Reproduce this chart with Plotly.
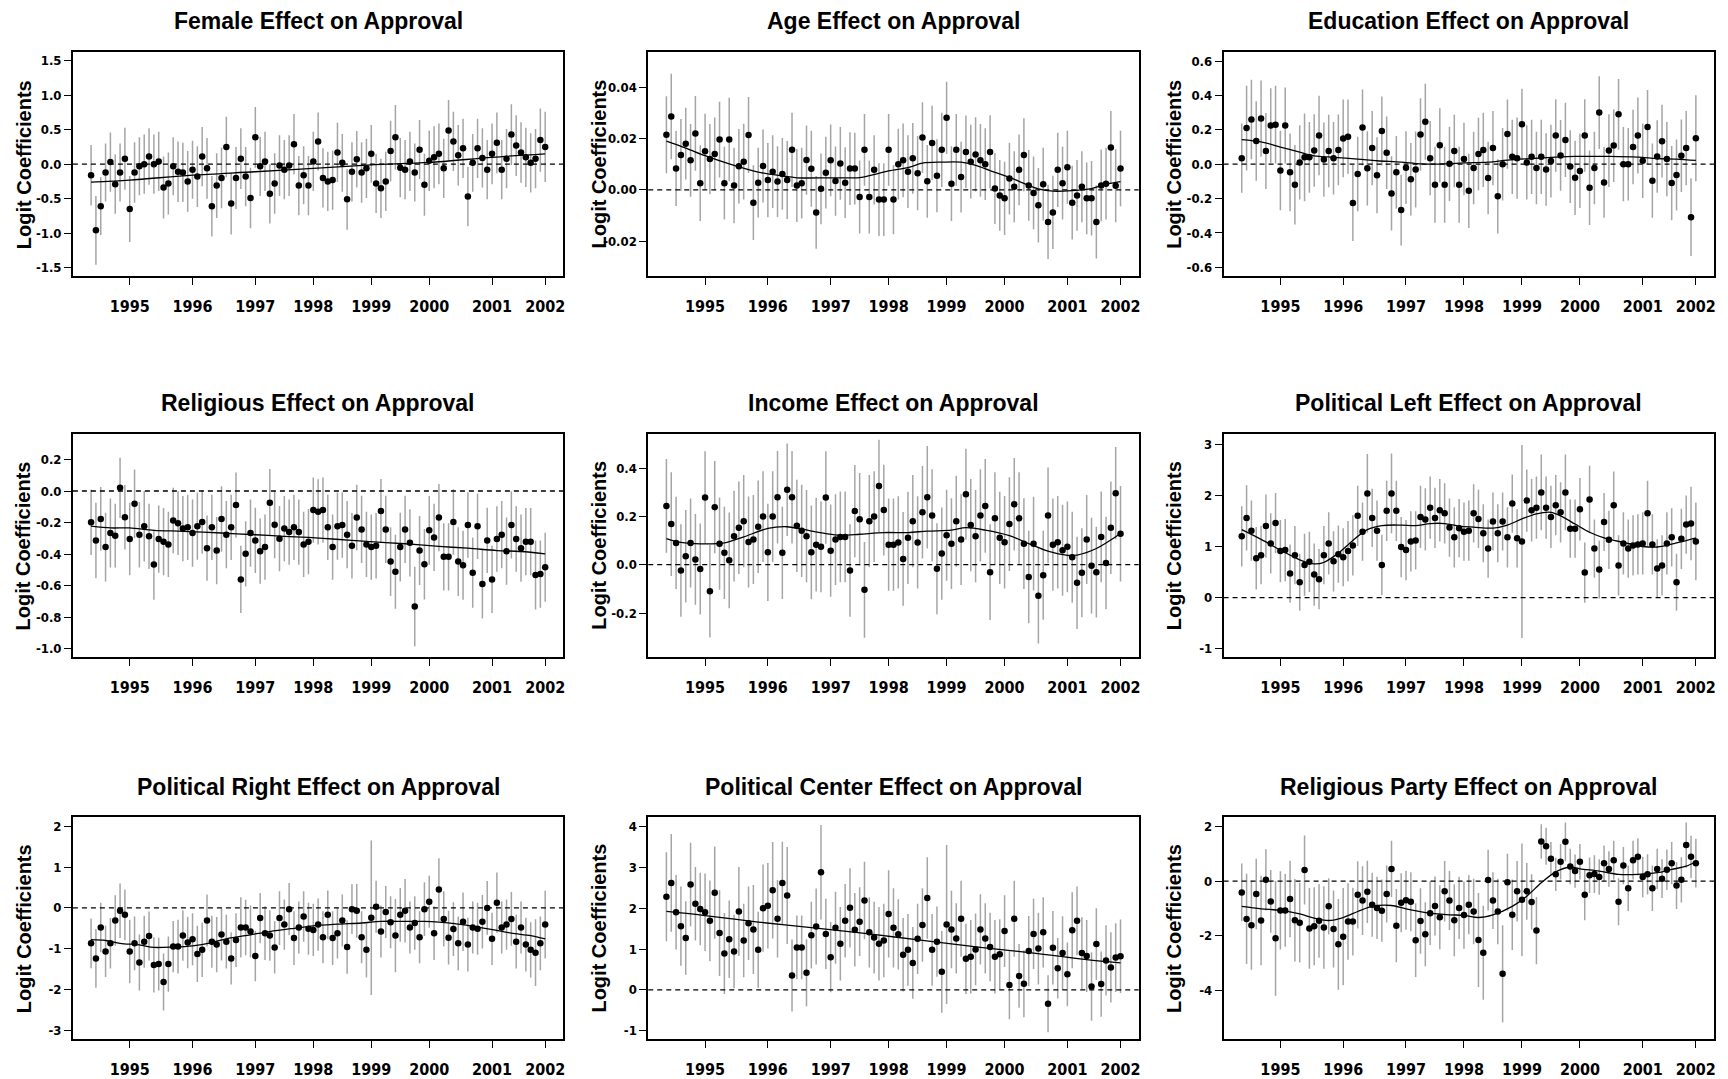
import plotly.graph_objects as go
from plotly.subplots import make_subplots

# ---------------- data ----------------
years = ["1995", "1996", "1997", "1998", "1999", "2000", "2001", "2002"]
year_wave = [8, 21, 34, 46, 58, 70, 83, 94]
waves = list(range(95))

female_est = [-0.16, -0.96, -0.61, -0.12, 0.03, -0.29, -0.12, 0.08, -0.65, -0.12,
              -0.03, 0.0, 0.11, 0.0, 0.04, -0.34, -0.28, -0.03, -0.11, -0.12,
              -0.25, -0.08, -0.18, 0.11, -0.06, -0.61, -0.31, -0.2, 0.25, -0.57,
              -0.2, 0.08, -0.18, -0.49, 0.39, -0.03, 0.04, -0.43, -0.28, -0.02,
              -0.08, -0.02, 0.29, -0.31, -0.16, -0.31, 0.04, 0.33, -0.2, -0.25,
              -0.23, 0.17, 0.02, -0.51, -0.11, 0.07, -0.12, -0.06, 0.15, -0.28,
              -0.35, -0.25, 0.19, 0.39, -0.05, -0.08, 0.04, -0.12, 0.21, -0.3,
              0.05, 0.1, 0.15, -0.06, 0.49, 0.33, 0.13, 0.23, -0.47, 0.02,
              0.23, 0.09, -0.08, 0.15, 0.31, -0.08, 0.08, 0.43, 0.27, 0.17,
              0.1, 0.02, 0.08, 0.35, 0.25]
female_ci = [0.44, 0.5, 0.42, 0.42, 0.43, 0.43, 0.42, 0.45, 0.48, 0.44,
             0.42, 0.43, 0.41, 0.43, 0.43, 0.45, 0.45, 0.42, 0.44, 0.43,
             0.44, 0.42, 0.44, 0.43, 0.44, 0.44, 0.47, 0.44, 0.44, 0.45,
             0.45, 0.44, 0.43, 0.44, 0.44, 0.43, 0.43, 0.43, 0.44, 0.44,
             0.43, 0.44, 0.44, 0.43, 0.42, 0.43, 0.43, 0.42, 0.43, 0.43,
             0.43, 0.43, 0.42, 0.44, 0.43, 0.41, 0.44, 0.43, 0.42, 0.43,
             0.43, 0.43, 0.44, 0.47, 0.43, 0.43, 0.43, 0.42, 0.43, 0.45,
             0.44, 0.45, 0.44, 0.43, 0.44, 0.43, 0.44, 0.43, 0.43, 0.42,
             0.43, 0.43, 0.43, 0.44, 0.44, 0.43, 0.43, 0.44, 0.44, 0.44,
             0.43, 0.43, 0.43, 0.46, 0.51]
female_sm_wave = [0, 8, 21, 34, 46, 58, 70, 83, 94]
female_sm_val = [-0.26, -0.23, -0.16, -0.11, -0.06, -0.01, 0.025, 0.1, 0.15]

age_est = [0.0215, 0.0286, 0.0083, 0.0136, 0.018, 0.0115, 0.022, 0.0026, 0.015, 0.012,
           0.014, 0.0196, 0.0026, 0.0196, 0.0017, 0.0092, 0.011, 0.0214, -0.005, 0.0028,
           0.0093, 0.0038, 0.0071, 0.0032, 0.0062, 0.0038, 0.0156, 0.0017, 0.0026, 0.0116,
           0.0082, -0.0088, 0.0004, 0.0067, 0.0115, 0.0034, 0.0103, 0.0028, 0.0083, 0.0083,
           -0.0028, 0.0156, -0.0028, 0.0078, -0.0038, -0.0038, 0.0156, -0.0038, 0.01, 0.0115,
           0.0071, 0.0123, 0.0065, 0.0204, 0.0033, 0.0183, 0.0055, 0.0156, 0.0281, 0.0024,
           0.0156, 0.005, 0.0148, 0.011, 0.0138, 0.0115, 0.01, 0.0148, 0.0005, -0.0022,
           -0.0033, 0.0044, 0.0012, 0.0078, 0.0136, 0.0017, -0.0012, -0.006, 0.0022, -0.0125,
           -0.0088, 0.0078, 0.0026, 0.0088, -0.005, -0.0022, 0.0012, -0.0033, -0.0033, -0.0125,
           0.0017, 0.0024, 0.0165, 0.0016, 0.0083]
age_ci = [0.015, 0.0167, 0.0146, 0.014, 0.014, 0.0142, 0.0146, 0.0148, 0.0147, 0.0137,
          0.0142, 0.0148, 0.0142, 0.0163, 0.0147, 0.0145, 0.0148, 0.0148, 0.0146, 0.0136,
          0.0142, 0.0145, 0.0142, 0.0138, 0.014, 0.0152, 0.0145, 0.0142, 0.0138, 0.0135,
          0.0148, 0.0142, 0.0138, 0.014, 0.014, 0.0135, 0.0142, 0.0138, 0.0142, 0.014,
          0.0142, 0.014, 0.0142, 0.0135, 0.0142, 0.0142, 0.014, 0.0135, 0.0138, 0.0144,
          0.0142, 0.0138, 0.0145, 0.0138, 0.0142, 0.0145, 0.0142, 0.0145, 0.0141, 0.0146,
          0.014, 0.0138, 0.0142, 0.0144, 0.0145, 0.0142, 0.014, 0.0143, 0.0138, 0.0138,
          0.0143, 0.014, 0.0138, 0.0138, 0.0143, 0.0138, 0.0142, 0.0145, 0.0142, 0.0145,
          0.0143, 0.0145, 0.0142, 0.0142, 0.0144, 0.0138, 0.0138, 0.014, 0.0145, 0.0143,
          0.014, 0.014, 0.0142, 0.0142, 0.0147]
age_sm_wave = [0, 4, 8, 13, 19, 24, 27, 34, 40, 42, 46, 50, 53, 57, 61, 64, 67, 71, 74, 77, 80, 84, 88, 91, 94]
age_sm_val = [0.019, 0.0163, 0.0133, 0.0101, 0.0069, 0.0054, 0.0047, 0.0047, 0.0048, 0.0055,
              0.0074, 0.0087, 0.0104, 0.0108, 0.0108, 0.0095, 0.0075, 0.0049, 0.0025, 0.0004,
              -0.0005, -0.0003, 0.0005, 0.0022, 0.0032]

edu_est = [0.035, 0.21, 0.26, 0.135, 0.265, 0.077, 0.225, 0.23, -0.037, 0.225,
           -0.047, -0.12, 0.01, 0.04, 0.04, 0.08, 0.167, 0.027, 0.077, 0.035,
           0.083, 0.15, 0.16, -0.225, -0.057, 0.214, -0.024, 0.094, -0.065, 0.193,
           0.067, -0.17, -0.047, -0.267, -0.02, -0.088, -0.031, 0.173, 0.247, 0.035,
           -0.12, 0.11, -0.12, 0.002, 0.077, -0.12, 0.03, -0.155, -0.022, 0.059,
           0.083, -0.08, 0.094, -0.187, 0.0, 0.175, 0.043, 0.035, 0.232, 0.01,
           0.043, -0.022, 0.043, -0.031, 0.018, 0.167, 0.051, 0.141, -0.014, -0.079,
           -0.039, 0.167, -0.137, -0.022, 0.3, -0.106, 0.079, 0.108, 0.29, 0.0,
           0.0, 0.1, 0.167, 0.02, 0.216, -0.096, 0.045, 0.134, 0.03, -0.11,
           -0.063, 0.049, 0.094, -0.308, 0.151]
edu_ci = [0.201, 0.246, 0.231, 0.231, 0.221, 0.221, 0.216, 0.226, 0.231, 0.221,
          0.226, 0.231, 0.216, 0.255, 0.206, 0.211, 0.231, 0.216, 0.211, 0.211,
          0.206, 0.226, 0.216, 0.221, 0.216, 0.221, 0.216, 0.216, 0.221, 0.201,
          0.211, 0.216, 0.211, 0.206, 0.211, 0.211, 0.221, 0.211, 0.221, 0.216,
          0.221, 0.216, 0.221, 0.216, 0.211, 0.221, 0.211, 0.216, 0.211, 0.211,
          0.216, 0.211, 0.216, 0.216, 0.211, 0.201, 0.216, 0.236, 0.206, 0.216,
          0.216, 0.211, 0.216, 0.211, 0.211, 0.211, 0.206, 0.216, 0.211, 0.216,
          0.216, 0.211, 0.216, 0.211, 0.211, 0.206, 0.211, 0.211, 0.206, 0.216,
          0.211, 0.216, 0.221, 0.216, 0.216, 0.216, 0.211, 0.211, 0.216, 0.216,
          0.206, 0.211, 0.216, 0.226, 0.25]
edu_sm_wave = [0, 4, 8, 12, 15, 19, 24, 28, 33, 37, 42, 46, 51, 55, 60, 65, 69, 76, 82, 86, 90, 94]
edu_sm_val = [0.143, 0.13, 0.1, 0.07, 0.049, 0.04, 0.03, 0.02, 0.012, 0.002, 0.002,
              0.008, 0.012, 0.024, 0.033, 0.041, 0.045, 0.045, 0.041, 0.033, 0.03, 0.022]

relig_est = [-0.198, -0.313, -0.177, -0.355, -0.266, -0.283, 0.02, -0.166, -0.304, -0.081,
             -0.277, -0.223, -0.287, -0.466, -0.304, -0.321, -0.338, -0.187, -0.204, -0.238,
             -0.23, -0.266, -0.223, -0.196, -0.362, -0.23, -0.377, -0.177, -0.277, -0.23,
             -0.089, -0.56, -0.398, -0.266, -0.313, -0.381, -0.355, -0.074, -0.213, -0.302,
             -0.238, -0.26, -0.23, -0.26, -0.338, -0.321, -0.121, -0.132, -0.121, -0.23,
             -0.355, -0.223, -0.215, -0.277, -0.347, -0.168, -0.243, -0.338, -0.355, -0.347,
             -0.126, -0.243, -0.447, -0.511, -0.355, -0.243, -0.328, -0.732, -0.377, -0.464,
             -0.249, -0.294, -0.168, -0.417, -0.417, -0.196, -0.447, -0.47, -0.215, -0.517,
             -0.223, -0.589, -0.313, -0.56, -0.304, -0.277, -0.381, -0.215, -0.304, -0.362,
             -0.321, -0.321, -0.532, -0.526, -0.483]
relig_ci = [0.207, 0.239, 0.202, 0.218, 0.218, 0.202, 0.191, 0.204, 0.229, 0.218,
            0.207, 0.223, 0.207, 0.223, 0.213, 0.213, 0.207, 0.207, 0.202, 0.207,
            0.207, 0.213, 0.213, 0.202, 0.207, 0.207, 0.213, 0.207, 0.213, 0.207,
            0.207, 0.213, 0.207, 0.213, 0.207, 0.207, 0.207, 0.213, 0.213, 0.207,
            0.207, 0.207, 0.207, 0.207, 0.207, 0.207, 0.207, 0.207, 0.207, 0.207,
            0.207, 0.213, 0.207, 0.213, 0.207, 0.207, 0.213, 0.207, 0.207, 0.207,
            0.202, 0.213, 0.218, 0.234, 0.218, 0.213, 0.213, 0.252, 0.218, 0.223,
            0.218, 0.213, 0.213, 0.213, 0.213, 0.207, 0.218, 0.218, 0.207, 0.223,
            0.207, 0.218, 0.207, 0.213, 0.207, 0.213, 0.213, 0.213, 0.207, 0.213,
            0.213, 0.213, 0.218, 0.213, 0.218]
relig_sm_wave = [0, 4, 8, 13, 19, 27, 34, 40, 45, 50, 57, 65, 72, 78, 84, 89, 94]
relig_sm_val = [-0.223, -0.234, -0.234, -0.249, -0.255, -0.266, -0.277, -0.287, -0.294,
                -0.304, -0.319, -0.334, -0.351, -0.362, -0.377, -0.383, -0.398]

income_est = [0.243, 0.168, 0.09, -0.024, 0.035, 0.09, 0.022, -0.018, 0.278, -0.11,
              0.238, 0.087, 0.049, 0.018, 0.118, 0.153, 0.18, 0.094, 0.104, 0.157,
              0.199, 0.051, 0.199, 0.279, 0.049, 0.31, 0.279, 0.161, 0.14, 0.118,
              0.051, 0.083, 0.074, 0.278, 0.058, 0.104, 0.115, 0.115, -0.024, 0.222,
              0.188, -0.104, 0.18, 0.199, 0.326, 0.226, 0.083, 0.083, 0.092, 0.024,
              0.111, 0.18, 0.092, 0.217, 0.279, 0.204, -0.017, 0.046, 0.122, 0.087,
              0.18, 0.104, 0.292, 0.164, 0.118, 0.204, 0.243, -0.031, 0.192, 0.111,
              0.093, 0.168, 0.25, 0.192, 0.087, -0.051, 0.087, -0.128, -0.044, 0.204,
              0.083, 0.093, 0.06, 0.074, 0.031, -0.075, -0.033, 0.104, -0.004, -0.031,
              0.115, 0.007, 0.153, 0.296, 0.128]
income_ci = [0.194, 0.215, 0.191, 0.191, 0.191, 0.184, 0.188, 0.188, 0.191, 0.191,
             0.191, 0.191, 0.191, 0.198, 0.188, 0.191, 0.191, 0.188, 0.184, 0.191,
             0.188, 0.201, 0.188, 0.191, 0.191, 0.191, 0.191, 0.191, 0.191, 0.191,
             0.194, 0.194, 0.188, 0.191, 0.191, 0.188, 0.188, 0.188, 0.191, 0.191,
             0.191, 0.198, 0.191, 0.188, 0.191, 0.188, 0.191, 0.191, 0.191, 0.194,
             0.191, 0.191, 0.191, 0.191, 0.212, 0.191, 0.188, 0.191, 0.188, 0.188,
             0.188, 0.188, 0.188, 0.191, 0.191, 0.191, 0.194, 0.198, 0.191, 0.191,
             0.191, 0.194, 0.191, 0.191, 0.188, 0.191, 0.194, 0.198, 0.184, 0.198,
             0.191, 0.191, 0.188, 0.188, 0.188, 0.191, 0.184, 0.184, 0.198, 0.188,
             0.188, 0.191, 0.191, 0.191, 0.198]
income_sm_wave = [0, 3, 7, 12, 16, 21, 25, 28, 33, 36, 40, 45, 50, 54, 59, 62, 66, 71, 75, 79, 83, 85, 89, 94]
income_sm_val = [0.108, 0.092, 0.086, 0.09, 0.115, 0.15, 0.157, 0.147, 0.129, 0.122, 0.126,
                 0.133, 0.133, 0.139, 0.143, 0.153, 0.143, 0.12, 0.0875, 0.056, 0.039,
                 0.04, 0.067, 0.129]

left_est = [1.2, 1.56, 1.31, 0.77, 0.83, 1.4, 1.06, 1.46, 0.91, 0.93,
            0.47, 0.83, 0.3, 0.64, 0.7, 0.45, 0.36, 0.83, 1.06, 0.71,
            0.85, 0.79, 0.91, 1.02, 1.6, 1.29, 2.04, 1.56, 1.31, 0.64,
            1.7, 2.04, 1.7, 0.99, 0.93, 1.1, 1.12, 1.58, 1.53, 1.76,
            1.56, 1.71, 1.65, 1.37, 1.18, 1.36, 1.29, 1.31, 1.65, 1.54,
            1.26, 0.96, 1.49, 1.26, 1.49, 1.18, 1.84, 1.16, 1.1, 1.9,
            1.71, 1.76, 2.06, 1.76, 1.58, 1.81, 1.67, 2.06, 1.35, 1.35,
            1.73, 0.49, 1.92, 0.96, 0.55, 1.48, 1.13, 1.81, 0.63, 1.06,
            0.96, 1.02, 1.04, 1.06, 1.65, 1.04, 0.57, 0.63, 1.06, 1.18,
            0.3, 1.15, 1.43, 1.45, 1.1]
left_ci = [0.59, 0.64, 0.59, 0.61, 0.57, 0.62, 0.59, 0.59, 0.61, 0.61,
           0.57, 0.57, 0.56, 0.61, 0.59, 0.61, 0.59, 0.57, 0.61, 0.59,
           0.56, 0.57, 0.59, 0.59, 0.59, 0.57, 0.77, 0.57, 0.59, 0.59,
           0.59, 0.78, 0.59, 0.59, 0.59, 0.59, 0.57, 0.61, 0.61, 0.61,
           0.59, 0.61, 0.59, 0.57, 0.59, 0.57, 0.57, 0.59, 0.57, 0.57,
           0.57, 0.57, 0.57, 0.57, 0.57, 0.59, 0.57, 0.57, 1.89, 0.61,
           0.61, 0.61, 0.74, 0.61, 0.61, 0.59, 0.59, 0.74, 0.57, 0.57,
           0.61, 0.59, 0.66, 0.57, 0.57, 0.57, 0.57, 0.66, 0.59, 0.61,
           0.57, 0.59, 0.59, 0.61, 0.64, 0.59, 0.57, 0.59, 0.61, 0.57,
           0.56, 0.59, 0.57, 0.72, 0.76]
left_sm_wave = [0, 4, 8, 12, 15, 17, 20, 23, 26, 29, 33, 36, 39, 42, 45, 48, 52, 55, 58,
                61, 64, 66, 69, 72, 75, 79, 83, 86, 90, 94]
left_sm_val = [1.33, 1.14, 0.93, 0.74, 0.66, 0.69, 0.87, 1.12, 1.33, 1.41, 1.42, 1.41,
               1.45, 1.45, 1.4, 1.38, 1.36, 1.42, 1.54, 1.64, 1.67, 1.6, 1.44, 1.28, 1.17,
               1.08, 1.0, 0.99, 1.07, 1.17]

right_est = [-0.87, -1.24, -0.48, -1.07, -0.87, -0.31, -0.07, -0.17, -1.07, -0.87,
             -1.34, -0.83, -0.69, -1.4, -1.38, -1.82, -1.38, -0.95, -0.95, -0.68,
             -0.85, -0.77, -1.13, -1.03, -0.31, -0.83, -0.9, -0.65, -0.83, -1.24,
             -0.79, -0.48, -0.48, -0.58, -1.18, -0.25, -0.62, -0.68, -0.97, -0.25,
             -0.41, -0.03, -0.74, -0.48, -0.21, -0.51, -0.54, -0.41, -0.72, -0.17,
             -0.74, -0.62, -0.31, -0.96, -0.03, -0.07, -0.72, -1.03, -0.24, 0.03,
             -0.58, -0.1, -0.35, -0.68, -0.17, -0.07, -0.48, -0.37, -0.72, -0.03,
             0.15, -0.62, 0.45, -0.27, -0.73, -0.52, -0.87, -0.34, -0.9, -0.48,
             -0.51, -0.34, 0.0, -0.76, 0.13, -0.48, -0.41, -0.27, -0.83, -0.48,
             -0.9, -1.03, -1.1, -0.87, -0.41]
right_ci = [0.61, 0.72, 0.61, 0.63, 0.62, 0.62, 0.67, 0.62, 0.78, 0.66,
            0.69, 0.64, 0.6, 0.68, 0.65, 0.7, 0.68, 0.63, 0.66, 0.62,
            0.63, 0.64, 0.69, 0.67, 0.64, 0.64, 0.68, 0.64, 0.66, 0.64,
            0.66, 0.74, 0.68, 0.64, 0.62, 0.62, 0.66, 0.62, 0.64, 0.66,
            0.62, 0.64, 0.66, 0.64, 0.62, 0.64, 0.64, 0.64, 0.64, 0.6,
            0.66, 0.62, 0.64, 0.66, 0.61, 0.66, 0.64, 0.68, 1.9, 0.64,
            0.64, 0.64, 0.64, 0.9, 0.66, 0.78, 0.64, 0.66, 0.64, 0.66,
            0.64, 0.66, 0.77, 0.68, 0.66, 0.66, 0.66, 0.72, 0.66, 0.64,
            0.64, 0.66, 0.66, 0.64, 0.74, 0.64, 0.62, 0.66, 0.66, 0.64,
            0.66, 0.68, 0.82, 0.66, 0.83]
right_sm_wave = [0, 3, 6, 10, 13, 17, 21, 25, 28, 33, 37, 42, 46, 51, 56, 60, 65, 69, 72,
                 76, 80, 84, 87, 91, 94]
right_sm_val = [-0.78, -0.8, -0.87, -0.91, -0.97, -0.96, -0.93, -0.85, -0.76, -0.66, -0.58,
                -0.5, -0.44, -0.4, -0.37, -0.33, -0.33, -0.33, -0.35, -0.4, -0.47, -0.55,
                -0.62, -0.68, -0.76]

center_est = [2.28, 2.62, 1.9, 1.56, 1.27, 2.58, 2.11, 1.98, 1.9, 1.69,
              2.38, 1.39, 0.89, 1.24, 0.94, 1.92, 1.21, 1.63, 1.48, 0.98,
              2.0, 2.06, 2.44, 1.74, 2.62, 2.31, 0.35, 1.04, 1.04, 0.42,
              1.34, 1.55, 2.88, 1.37, 0.8, 1.52, 1.13, 1.69, 2.01, 1.47,
              1.67, 2.19, 1.41, 1.28, 1.13, 1.21, 1.86, 1.52, 1.36, 0.86,
              0.98, 0.66, 1.25, 1.59, 2.25, 0.98, 1.18, 0.44, 1.6, 1.48,
              1.26, 1.74, 0.76, 0.81, 0.99, 1.48, 1.26, 1.05, 0.81, 0.87,
              1.44, 0.12, 1.74, 0.34, 0.15, 0.95, 1.37, 1.01, 1.41, -0.34,
              1.03, 0.53, 0.9, 0.38, 1.46, 1.69, 0.9, 0.83, 0.08, 1.12,
              0.14, 0.72, 0.55, 0.79, 0.82]
center_ci = [1.09, 1.2, 0.91, 0.97, 0.9, 1.02, 0.9, 0.89, 0.95, 0.99,
             1.13, 1.05, 0.99, 0.95, 0.9, 1.09, 0.9, 0.9, 1.09, 0.93,
             1.07, 1.05, 1.18, 0.95, 1.01, 1.19, 0.88, 0.78, 0.78, 0.82,
             0.82, 0.93, 1.16, 0.86, 0.86, 0.88, 0.9, 0.9, 0.97, 0.9,
             0.84, 0.95, 0.86, 0.88, 0.9, 0.9, 1.07, 0.97, 0.86, 0.9,
             0.88, 0.88, 0.86, 0.9, 1.0, 0.88, 0.86, 1.0, 1.95, 0.95,
             0.86, 0.93, 0.86, 0.9, 0.88, 0.86, 0.86, 0.84, 0.9, 0.86,
             0.88, 0.84, 0.93, 0.78, 0.82, 0.86, 0.86, 0.88, 0.86, 0.7,
             0.9, 0.74, 0.9, 0.78, 0.93, 0.84, 0.88, 0.88, 0.84, 0.88,
             0.8, 0.86, 0.86, 0.84, 0.9]
center_sm_wave = [0, 8, 19, 31, 42, 53, 65, 76, 87, 94]
center_sm_val = [1.92, 1.82, 1.66, 1.51, 1.37, 1.21, 1.04, 0.9, 0.74, 0.66]

rparty_est = [-0.41, -1.38, -1.61, -0.47, -1.44, 0.05, -0.74, -2.09, -1.07, -1.07,
              -0.65, -1.43, -1.52, 0.41, -1.73, -1.65, -1.45, -1.7, -0.92, -1.75,
              -2.31, -2.03, -1.48, -1.48, -0.5, -0.71, -0.39, -0.86, -0.98, -1.08,
              -0.47, 0.45, -1.63, -0.79, -0.7, -0.75, -2.16, -1.46, -1.94, -1.17,
              -0.91, -1.32, -0.37, -0.71, -1.43, -0.98, -1.24, -0.86, -1.11, -2.15,
              -2.62, 0.04, -0.71, -1.11, -3.39, -0.04, -1.23, -0.37, -0.68, -0.37,
              -0.76, -1.81, 1.45, 1.28, 0.82, 0.25, 0.71, 1.44, 0.54, 0.37,
              0.71, -0.5, 0.22, 0.26, 0.15, 0.66, 0.45, 0.77, -0.75, 0.57,
              -0.26, 0.77, 0.89, 0.15, 0.25, -0.26, 0.45, 0.09, 0.42, 0.66,
              -0.16, 0.05, 1.32, 0.89, 0.66]
rparty_ci = [1.06, 1.65, 1.63, 1.29, 1.64, 1.12, 1.15, 2.1, 1.43, 1.33,
             1.4, 1.51, 1.46, 1.26, 1.48, 1.43, 1.35, 1.51, 1.03, 1.41,
             1.66, 1.78, 1.4, 1.24, 1.23, 1.26, 1.14, 1.17, 1.14, 1.14,
             1.04, 1.03, 1.34, 1.08, 1.08, 1.08, 1.35, 1.2, 1.17, 1.17,
             1.08, 1.17, 1.11, 1.08, 1.32, 1.14, 1.23, 1.08, 1.2, 1.72,
             1.72, 1.11, 1.04, 1.2, 1.78, 1.04, 1.29, 1.11, 2.06, 1.04,
             1.01, 1.23, 0.63, 0.68, 0.61, 0.61, 0.65, 0.71, 0.65, 0.61,
             0.65, 0.93, 0.65, 0.69, 0.65, 0.65, 0.65, 0.71, 0.86, 0.68,
             0.83, 0.71, 0.68, 0.74, 0.74, 0.83, 0.74, 0.71, 0.74, 0.77,
             0.86, 0.83, 0.83, 0.77, 0.89]
rparty_sm_wave = [0, 4, 8, 12, 15, 18, 21, 24, 27, 31, 34, 39, 43, 46, 49, 52, 56, 59,
                  62, 65, 68, 70, 74, 78, 82, 86, 89, 92, 94]
rparty_sm_val = [-0.92, -1.01, -1.07, -1.2, -1.35, -1.44, -1.33, -1.11, -0.92, -0.89,
                 -1.01, -1.17, -1.23, -1.25, -1.33, -1.23, -0.92, -0.55, -0.06, 0.34,
                 0.52, 0.45, 0.37, 0.25, 0.25, 0.31, 0.43, 0.55, 0.71]

titles = ["Female Effect on Approval", "Age Effect on Approval", "Education Effect on Approval",
          "Religious Effect on Approval", "Income Effect on Approval", "Political Left Effect on Approval",
          "Political Right Effect on Approval", "Political Center Effect on Approval",
          "Religious Party Effect on Approval"]

female_ticks = [1.5, 1.0, 0.5, 0.0, -0.5, -1.0, -1.5]
age_ticks = [0.04, 0.02, 0.0, -0.02]
edu_ticks = [0.6, 0.4, 0.2, 0.0, -0.2, -0.4, -0.6]
relig_ticks = [0.2, 0.0, -0.2, -0.4, -0.6, -0.8, -1.0]
income_ticks = [0.4, 0.2, 0.0, -0.2]
left_ticks = [3, 2, 1, 0, -1]
right_ticks = [2, 1, 0, -1, -2, -3]
center_ticks = [4, 3, 2, 1, 0, -1]
rparty_ticks = [2, 0, -2, -4]

# ---------------- layout parameters ----------------
W, H = 1728, 1079
col_px = [(73, 564), (649, 1140), (1225, 1716)]
row_px = [(52, 277), (435, 658), (819, 1041)]

panels = [
    (female_est, female_ci, female_sm_wave, female_sm_val, female_ticks, "{:.1f}", (-1.63, 1.63)),
    (age_est, age_ci, age_sm_wave, age_sm_val, age_ticks, "{:.2f}", (-0.0338, 0.0538)),
    (edu_est, edu_ci, edu_sm_wave, edu_sm_val, edu_ticks, "{:.1f}", (-0.653, 0.653)),
    (relig_est, relig_ci, relig_sm_wave, relig_sm_val, relig_ticks, "{:.1f}", (-1.05, 0.36)),
    (income_est, income_ci, income_sm_wave, income_sm_val, income_ticks, "{:.1f}", (-0.381, 0.54)),
    (left_est, left_ci, left_sm_wave, left_sm_val, left_ticks, "{:d}", (-1.16, 3.2)),
    (right_est, right_ci, right_sm_wave, right_sm_val, right_ticks, "{:d}", (-3.223, 2.223)),
    (center_est, center_ci, center_sm_wave, center_sm_val, center_ticks, "{:d}", (-1.206, 4.222)),
    (rparty_est, rparty_ci, rparty_sm_wave, rparty_sm_val, rparty_ticks, "{:d}", (-5.78, 2.332)),
]

NARROW = "DejaVu Sans Condensed, Liberation Sans Narrow, Arial Narrow, Liberation Sans, sans-serif"
WIDE = "Liberation Sans, Arial, sans-serif"

fig = make_subplots(rows=3, cols=3)
fig.update_layout(width=W, height=H, autosize=False, margin=dict(l=0, r=0, t=0, b=0),
                  paper_bgcolor="white", plot_bgcolor="white", showlegend=False)

annotations = []
shapes = []
for i, (est, ci, smw, smv, ticks, fmt, yr) in enumerate(panels):
    r, c = divmod(i, 3)
    n = i + 1
    xa = "x" if n == 1 else f"x{n}"
    ya = "y" if n == 1 else f"y{n}"
    x0, x1 = col_px[c]
    y0, y1 = row_px[r]
    dom_x = [x0 / W, x1 / W]
    dom_y = [1 - y1 / H, 1 - y0 / H]

    fig.add_trace(go.Scatter(x=waves, y=est, mode="markers",
                             marker=dict(color="black", size=6.5),
                             error_y=dict(type="data", array=ci, visible=True, width=0,
                                          color="rgb(165,165,165)", thickness=1.5),
                             hoverinfo="skip"), row=r + 1, col=c + 1)
    fig.add_trace(go.Scatter(x=smw, y=smv, mode="lines",
                             line=dict(color="black", width=1.3, shape="spline", smoothing=0.9),
                             hoverinfo="skip"), row=r + 1, col=c + 1)

    if fmt == "{:d}":
        ttext = [str(int(t)) for t in ticks]
    else:
        ttext = [fmt.format(t) for t in ticks]

    axis_common = dict(showline=True, mirror=True, linecolor="black", linewidth=1.6,
                       ticks="outside", ticklen=7, tickwidth=1.2, tickcolor="black",
                       showgrid=False, zeroline=False)
    fig.update_xaxes(domain=dom_x, range=[-3.76, 97.76], tickvals=year_wave, ticktext=years,
                     tickfont=dict(family=NARROW, size=16, color="black", weight="bold"),
                     ticklabelstandoff=8, row=r + 1, col=c + 1, **axis_common)
    fig.update_yaxes(domain=dom_y, range=list(yr), tickvals=ticks, ticktext=ttext,
                     tickfont=dict(family=NARROW, size=13, color="black", weight="bold"),
                     row=r + 1, col=c + 1, **axis_common)

    shapes.append(dict(type="line", xref=f"{xa} domain", yref=ya, x0=0, x1=1, y0=0, y1=0,
                       line=dict(color="black", width=1.3, dash="5px,4px")))

    annotations.append(dict(text=titles[i], xref="paper", yref="paper",
                            x=(x0 + x1) / 2 / W, y=1 - (y0 - 31) / H,
                            xanchor="center", yanchor="middle", showarrow=False,
                            font=dict(family=WIDE, size=23, color="black", weight="bold")))
    annotations.append(dict(text="Logit Coefficients", xref="paper", yref="paper",
                            x=(x0 - 49) / W, y=1 - (y0 + y1) / 2 / H, textangle=-90,
                            xanchor="center", yanchor="middle", showarrow=False,
                            font=dict(family=WIDE, size=20, color="black", weight="bold")))

fig.update_layout(annotations=annotations, shapes=shapes)
fig.write_html("out.html")
